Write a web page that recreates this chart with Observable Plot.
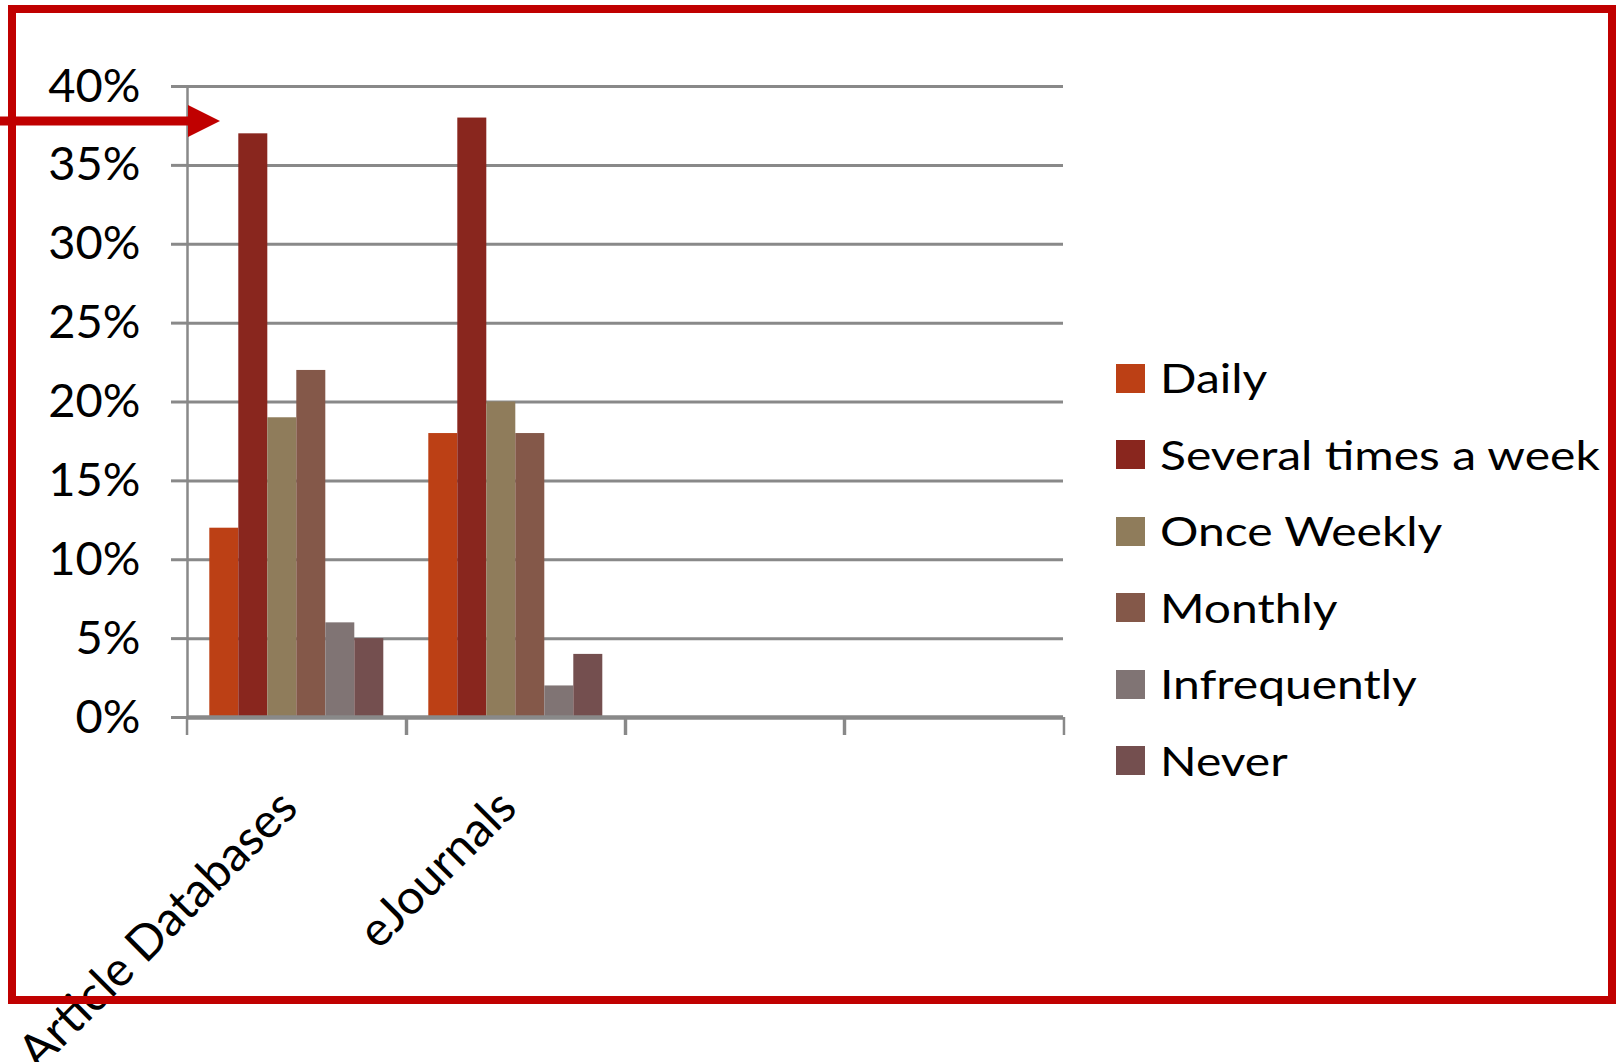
<!DOCTYPE html>
<html>
<head>
<meta charset="utf-8">
<script src="https://cdn.jsdelivr.net/npm/d3@7"></script>
<script src="https://cdn.jsdelivr.net/npm/@observablehq/plot@0.6"></script>
<style>
html, body { margin: 0; padding: 0; background: #fff; }
#wrap { position: relative; width: 1616px; height: 1062px; overflow: hidden; background: #fff; }
#chart { position: absolute; left: 0; top: 0; }
#legend { position: absolute; left: 1116px; top: 340px; width: 500px; }
.lg-swatches { font-family: Lato, sans-serif; font-size: 40px; color: #000; margin: 0; }
.lg-swatch { height: 76.5px; padding: 0 !important; }
.lg-swatch > svg { margin-right: 15px !important; }
.lg-swatch-label { transform: scaleX(1.2); transform-origin: left center; overflow: visible !important; }
#frame { position: absolute; left: 8px; top: 5px; width: 1608px; height: 999px; border: 8px solid #C00000; box-sizing: border-box; pointer-events: none; }
#arrow { position: absolute; left: 0; top: 0; pointer-events: none; }
</style>
</head>
<body>
<div id="wrap">
  <div id="chart"></div>
  <div id="legend"></div>
  <div id="frame"></div>
  <svg id="arrow" width="240" height="160">
    <line x1="0" y1="121" x2="192" y2="121" stroke="#C00000" stroke-width="9"></line>
    <polygon points="188,105 220,121 188,137" fill="#C00000"></polygon>
  </svg>
</div>
<script>
// ---- data ----
const categories = ["Article Databases", "eJournals"];
const axisSlots = ["Article Databases", "eJournals", "", " "]; // two empty category slots on the axis
const series = ["Daily", "Several times a week", "Once Weekly", "Monthly", "Infrequently", "Never"];
const articleDatabases = [12, 37, 19, 22, 6, 5];
const eJournals = [18, 38, 20, 18, 2, 4];
const colors = ["#BC4015", "#89261E", "#8F7C5B", "#845849", "#807474", "#744F4F"];
const yTicks = [0, 5, 10, 15, 20, 25, 30, 35, 40];

const data = series.flatMap((s, i) => [
  {category: categories[0], series: s, value: articleDatabases[i]},
  {category: categories[1], series: s, value: eJournals[i]}
]);

const gray = "#898989";
const W = 1616, H = 1062;
const mL = 184.7, mR = 551.5, mT = 86, mB = 345;
const fw = (W - mL - mR) / axisSlots.length;

// draw a mark in the filled facets and again in the empty category slots
const everywhere = (make) => [make({}), make({facetAnchor: "empty"})];

const chart = Plot.plot({
  width: W, height: H,
  marginLeft: mL, marginRight: mR, marginTop: mT, marginBottom: mB,
  style: {background: "transparent", fontFamily: "Lato, sans-serif", overflow: "visible", color: "#000"},
  fx: {domain: axisSlots, padding: 0, label: null},
  x: {domain: series, paddingInner: 0, paddingOuter: 0.75, axis: null},
  y: {domain: [0, 40], label: null},
  color: {domain: series, range: colors},
  marks: [
    everywhere(o => Plot.gridY(yTicks, {stroke: gray, strokeOpacity: 1, strokeWidth: 3, ...o})),
    Plot.axisY(yTicks, {tickSize: 16, tickPadding: 31, stroke: gray, strokeWidth: 3, fill: "#000",
      fontSize: 47, tickFormat: d => d + "%", label: null}),
    Plot.barY(data, {fx: "category", x: "series", y: "value", fill: "series"}),
    everywhere(o => Plot.ruleY([0], {stroke: gray, strokeWidth: 4.5, ...o})),
    Plot.frame({anchor: "left", facetAnchor: "left", stroke: gray, strokeWidth: 2.5}),
    Plot.axisFx({anchor: "bottom", tickSize: 18, stroke: gray, strokeWidth: 2.5, fill: "none", dx: -fw / 2, label: null}),
    Plot.axisFx([axisSlots[axisSlots.length - 1]], {anchor: "bottom", tickSize: 18, stroke: gray, strokeWidth: 2.5, fill: "none", dx: fw / 2, label: null}),
    Plot.axisFx({anchor: "bottom", tickSize: 0, tickPadding: 82, tickRotate: -45, textAnchor: "end", lineAnchor: "middle",
      fontSize: 48, fill: "#000", stroke: "none", dx: -8, label: null})
  ]
});
document.getElementById("chart").appendChild(chart);

const leg = Plot.legend({
  color: {type: "ordinal", domain: series, range: colors},
  legend: "swatches", columns: 1, swatchSize: 29, className: "lg"
});
document.getElementById("legend").appendChild(leg);
</script>
</body>
</html>
